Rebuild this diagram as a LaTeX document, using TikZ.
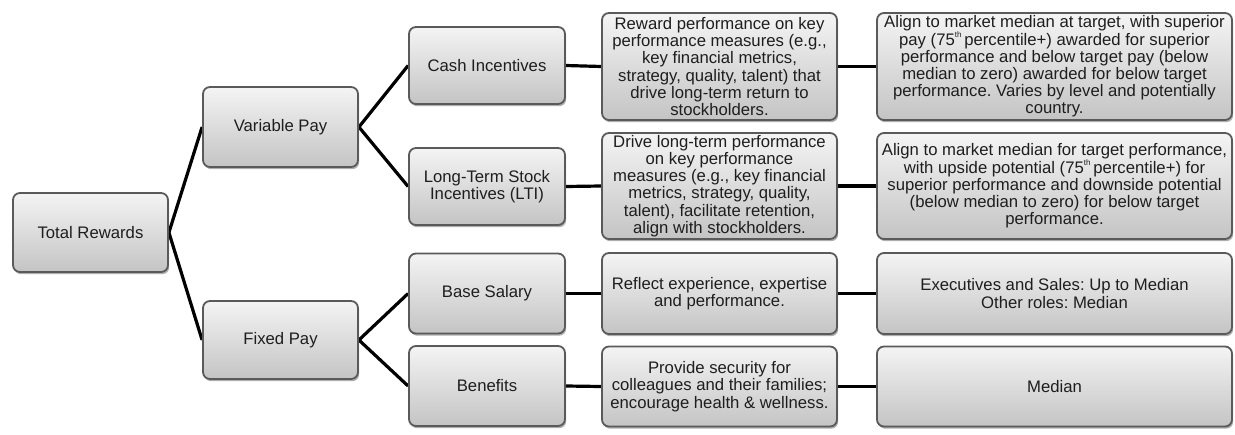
\documentclass[tikz,border=0pt]{standalone}
\usepackage{fontspec}
\setmainfont{Liberation Sans}
\usetikzlibrary{shadows,backgrounds}
\definecolor{boxborder}{HTML}{5A5A5A}
\definecolor{boxtop}{HTML}{F4F4F4}
\definecolor{boxbot}{HTML}{C4C4C4}
\definecolor{txt}{HTML}{1E1E1E}
\newcommand{\supth}{\raisebox{0.45em}{\fontsize{8}{8}\selectfont th}\,}
\tikzset{
  card/.style={draw=boxborder, line width=1.8pt, rounded corners=7pt,
    top color=boxtop, bottom color=boxbot, text=txt, align=center,
    inner sep=2pt, font=\fontsize{16.7}{17.2}\selectfont\frenchspacing,
    drop shadow={shadow xshift=1.2pt, shadow yshift=-2.2pt, opacity=0.45, fill=black!70}},
  link/.style={line width=3.2pt, black},
}
\begin{document}
\begin{tikzpicture}[x=1pt,y=1pt]
\useasboundingbox (0,0) rectangle (1235,-434);
\node[card, minimum width=155pt, minimum height=79pt] (tr) at (90.5,-232.5) {Total Rewards};
\node[card, minimum width=155pt, minimum height=80pt] (vp) at (280.5,-127) {Variable Pay};
\node[card, minimum width=155pt, minimum height=78pt] (fp) at (280.5,-340) {Fixed Pay};
\node[card, minimum width=156pt, minimum height=77pt] (ci) at (487,-65.5) {Cash Incentives};
\node[card, minimum width=156pt, minimum height=77pt] (lti) at (487,-186.5) {Long-Term Stock\\Incentives (LTI)};
\node[card, minimum width=156pt, minimum height=80pt] (bs) at (487,-293.5) {Base Salary};
\node[card, minimum width=156pt, minimum height=80pt] (ben) at (487,-386) {Benefits};
\node[card, minimum width=235pt, minimum height=107pt] (rw) at (719.5,-66.5) {Reward performance on key\\performance measures (e.g.,\\key financial metrics,\\strategy, quality, talent) that\\drive long-term return to\\stockholders.};
\node[card, minimum width=235pt, minimum height=106pt] (dr) at (719.5,-186) {Drive long-term performance\\on key performance\\measures (e.g., key financial\\metrics, strategy, quality,\\talent), facilitate retention,\\align with stockholders.};
\node[card, minimum width=235pt, minimum height=81pt] (rf) at (719.5,-293.5) {Reflect experience, expertise\\and performance.};
\node[card, minimum width=235pt, minimum height=80pt] (pr) at (719.5,-386.5) {Provide security for\\colleagues and their families;\\encourage health \& wellness.};
\node[card, minimum width=355pt, minimum height=107pt] (a1) at (1054.5,-66.5) {Align to market median at target, with superior\\pay (75\supth percentile+) awarded for superior\\performance and below target pay (below\\median to zero) awarded for below target\\performance. Varies by level and potentially\\country.};
\node[card, minimum width=355pt, minimum height=106pt] (a2) at (1054.5,-186) {Align to market median for target performance,\\with upside potential (75\supth percentile+) for\\superior performance and downside potential\\(below median to zero) for below target\\performance.};
\node[card, minimum width=355pt, minimum height=81pt] (ex) at (1054.5,-293.5) {Executives and Sales: Up to Median\\Other roles: Median};
\node[card, minimum width=355pt, minimum height=80pt] (md) at (1054.5,-386.5) {Median};
\begin{scope}[on background layer]
\draw[link] (tr.east) -- (vp.west);
\draw[link] (tr.east) -- (fp.west);
\draw[link] (vp.east) -- (ci.west);
\draw[link] (vp.east) -- (lti.west);
\draw[link] (fp.east) -- (bs.west);
\draw[link] (fp.east) -- (ben.west);
\draw[link] (ci.east) -- (rw.west);
\draw[link] (lti.east) -- (dr.west);
\draw[link] (bs.east) -- (rf.west);
\draw[link] (ben.east) -- (pr.west);
\draw[link] (rw.east) -- (a1.west);
\draw[link] (dr.east) -- (a2.west);
\draw[link] (rf.east) -- (ex.west);
\draw[link] (pr.east) -- (md.west);
\end{scope}
\end{tikzpicture}
\end{document}
